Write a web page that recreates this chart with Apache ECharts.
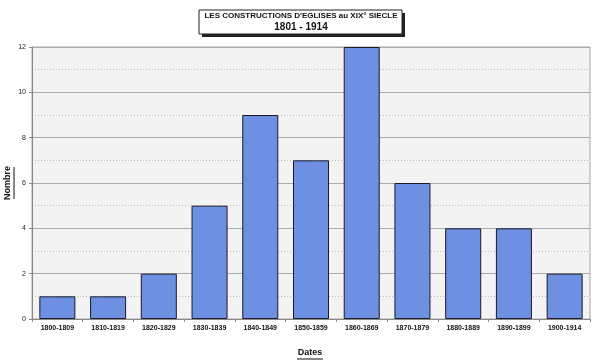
<!DOCTYPE html>
<html><head><meta charset="utf-8">
<script src="https://cdn.jsdelivr.net/npm/echarts@6/dist/echarts.min.js"></script>
<style>html,body{margin:0;padding:0;background:#fff}#c{width:600px;height:364px}</style>
</head><body><div id="c"></div>
<script>
var categories = ['1800-1809','1810-1819','1820-1829','1830-1839','1840-1849','1850-1859','1860-1869','1870-1879','1880-1889','1890-1899','1900-1914'];
var values = [1,1,2,5,9,7,12,6,4,4,2];
var yTicks = [0,2,4,6,8,10,12];
var titleLine1 = "LES CONSTRUCTIONS D'EGLISES au XIX° SIECLE";
var titleLine2 = '1801 - 1914';
var yName = 'Nombre';
var xName = 'Dates';

var chart = echarts.init(document.getElementById('c'));
var F = 'Liberation Sans, Arial, sans-serif';
chart.setOption({
  animation: false,
  backgroundColor: '#fff',
  grid: { left: 32, right: 10, top: 47, bottom: 45, show: true, backgroundColor: '#f3f3f3', borderColor: '#a8a8a8', borderWidth: 1 },
  xAxis: {
    type: 'category', data: categories,
    axisLine: { lineStyle: { color: '#888', width: 1 } },
    axisTick: { show: true, length: 3, lineStyle: { color: '#888' } },
    axisLabel: { fontFamily: F, fontSize: 7, fontWeight: 'bold', color: '#111', margin: 6 }
  },
  yAxis: {
    type: 'value', min: yTicks[0], max: yTicks[yTicks.length-1], interval: 2,
    axisLine: { show: true, lineStyle: { color: '#888' } },
    axisTick: { show: true, length: 3, lineStyle: { color: '#888' } },
    axisLabel: { fontFamily: F, fontSize: 7, color: '#222', margin: 6 },
    splitLine: { lineStyle: { color: '#ababab', width: 1 } },
    minorTick: { show: false, splitNumber: 2 },
    minorSplitLine: { show: true, lineStyle: { color: '#b8b8b8', type: [1, 2], width: 1 } }
  },
  series: [{
    type: 'bar', data: values, barWidth: '71%',
    itemStyle: { color: '#6d90e2', borderColor: '#1a1a2a', borderWidth: 1 }
  }],
  graphic: [
    { type: 'rect', shape: { x: 202, y: 13, width: 203, height: 24 }, style: { fill: '#222' }, z: 10 },
    { type: 'rect', shape: { x: 199, y: 10, width: 203, height: 24 }, style: { fill: '#fff', stroke: '#222', lineWidth: 1 }, z: 11 },
    { type: 'text', x: 301, y: 16, z: 12, style: { text: titleLine1, fontFamily: F, fontSize: 8, fontWeight: 'bold', fill: '#111', align: 'center', verticalAlign: 'middle' } },
    { type: 'text', x: 301, y: 27, z: 12, style: { text: titleLine2, fontFamily: F, fontSize: 10, fontWeight: 'bold', fill: '#111', align: 'center', verticalAlign: 'middle' } },
    { type: 'text', x: 310, y: 353, z: 12, style: { text: xName, fontFamily: F, fontSize: 9, fontWeight: 'bold', fill: '#111', align: 'center', verticalAlign: 'middle' } },
    { type: 'line', shape: { x1: 297, y1: 359, x2: 323, y2: 359 }, style: { stroke: '#111', lineWidth: 1 }, z: 12 },
    { type: 'text', x: 8, y: 183, rotation: Math.PI/2, z: 12, style: { text: yName, fontFamily: F, fontSize: 9, fontWeight: 'bold', fill: '#111', align: 'center', verticalAlign: 'middle' } },
    { type: 'line', shape: { x1: 14, y1: 167, x2: 14, y2: 199 }, style: { stroke: '#111', lineWidth: 1 }, z: 12 }
  ]
});
</script></body></html>
